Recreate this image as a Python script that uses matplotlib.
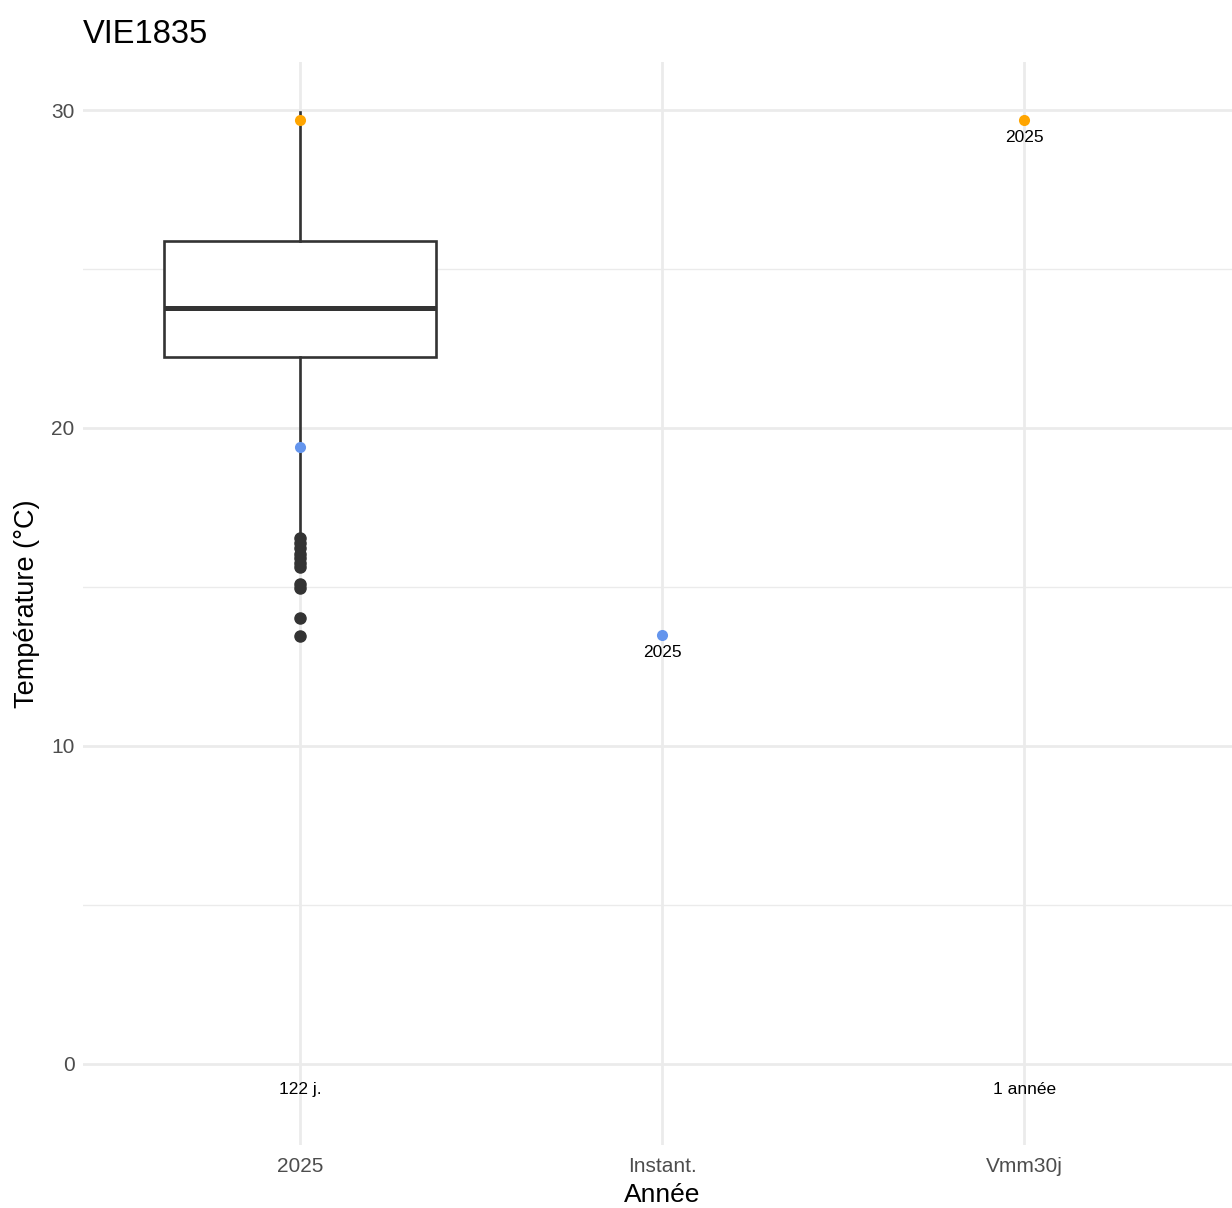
import matplotlib.pyplot as plt
import numpy as np

plt.rcParams["font.family"] = ["Liberation Sans", "DejaVu Sans"]

# ---------------------------------------------------------------------------
# Data
# ---------------------------------------------------------------------------
categories = ["2025", "Instant.", "Vmm30j"]

# box statistics for the 2025 distribution (122 days)
box_q1, box_med, box_q3 = 22.22, 23.77, 25.88
box_whislo, box_whishi = 16.72, 29.95
box_fliers = [16.54, 16.38, 16.22, 16.05, 15.9, 15.75, 15.63, 15.1, 14.98, 14.03, 13.46]

# highlighted points: (category index, value, colour, label)
point_cat = [0, 0, 1, 2]
point_val = [29.69, 19.40, 13.49, 29.69]
point_col = ["#FFA500", "#6495ED", "#6495ED", "#FFA500"]
point_lbl = [None, None, "2025", "2025"]

# counts shown under each category
count_cat = [0, 2]
count_lbl = ["122 j.", "1 année"]
count_y = -0.8

GRID = "#EBEBEB"
DARK = "#333333"

fig = plt.figure(figsize=(12.32, 12.08), dpi=100)
ax = fig.add_axes([83 / 1232, 1 - 1145 / 1208, 1 - 83 / 1232, (1145 - 62) / 1208])

xpos = np.arange(1, len(categories) + 1)

stats = [{
    "med": box_med, "q1": box_q1, "q3": box_q3,
    "whislo": box_whislo, "whishi": box_whishi, "fliers": box_fliers,
}]
ax.bxp(
    stats, positions=[xpos[0]], widths=0.75, showfliers=True, patch_artist=True,
    boxprops=dict(facecolor="white", edgecolor=DARK, linewidth=1.9),
    medianprops=dict(color=DARK, linewidth=3.6),
    whiskerprops=dict(color=DARK, linewidth=1.9),
    capprops=dict(linewidth=0),
    flierprops=dict(marker="o", markerfacecolor=DARK, markeredgecolor=DARK,
                    markersize=8, linestyle="none"),
    zorder=3,
)

for c, v, col, lbl in zip(point_cat, point_val, point_col, point_lbl):
    ax.scatter(xpos[c], v, s=64, color=col, zorder=5, linewidths=0)
    if lbl:
        ax.text(xpos[c], v - 0.33, lbl, ha="center", va="top", fontsize=12.5, color="black")

for c, lbl in zip(count_cat, count_lbl):
    ax.text(xpos[c], count_y, lbl, ha="center", va="center", fontsize=12.5, color="black")

ax.set_xlim(0.4, 3 + (1232 - 1024) / 362.5)
ax.set_ylim(-2.55, 31.51)

ax.set_xticks(xpos)
ax.set_xticklabels(categories)
ax.set_yticks([0, 10, 20, 30])
ax.set_yticks([5, 15, 25], minor=True)

ax.grid(True, which="major", color=GRID, linewidth=2.0, zorder=0)
ax.grid(True, which="minor", axis="y", color=GRID, linewidth=1.0, zorder=0)
ax.set_axisbelow(True)

for s in ax.spines.values():
    s.set_visible(False)
ax.tick_params(which="both", length=0, labelsize=15, colors="#4D4D4D", pad=6)
ax.tick_params(axis="x", pad=9)

ax.set_xlabel("Année", fontsize=19, color="black")
ax.xaxis.set_label_coords((662 - 83) / (1232 - 83), -(1207 - 1145) / (1145 - 62))
ax.xaxis.label.set_va("bottom")
ax.set_ylabel("Température (°C)", fontsize=19.5, color="black", labelpad=8)
ax.set_title("VIE1835", fontsize=23.5, loc="left", color="black", pad=14, x=0.0)

fig.savefig("out.png", dpi=100)
